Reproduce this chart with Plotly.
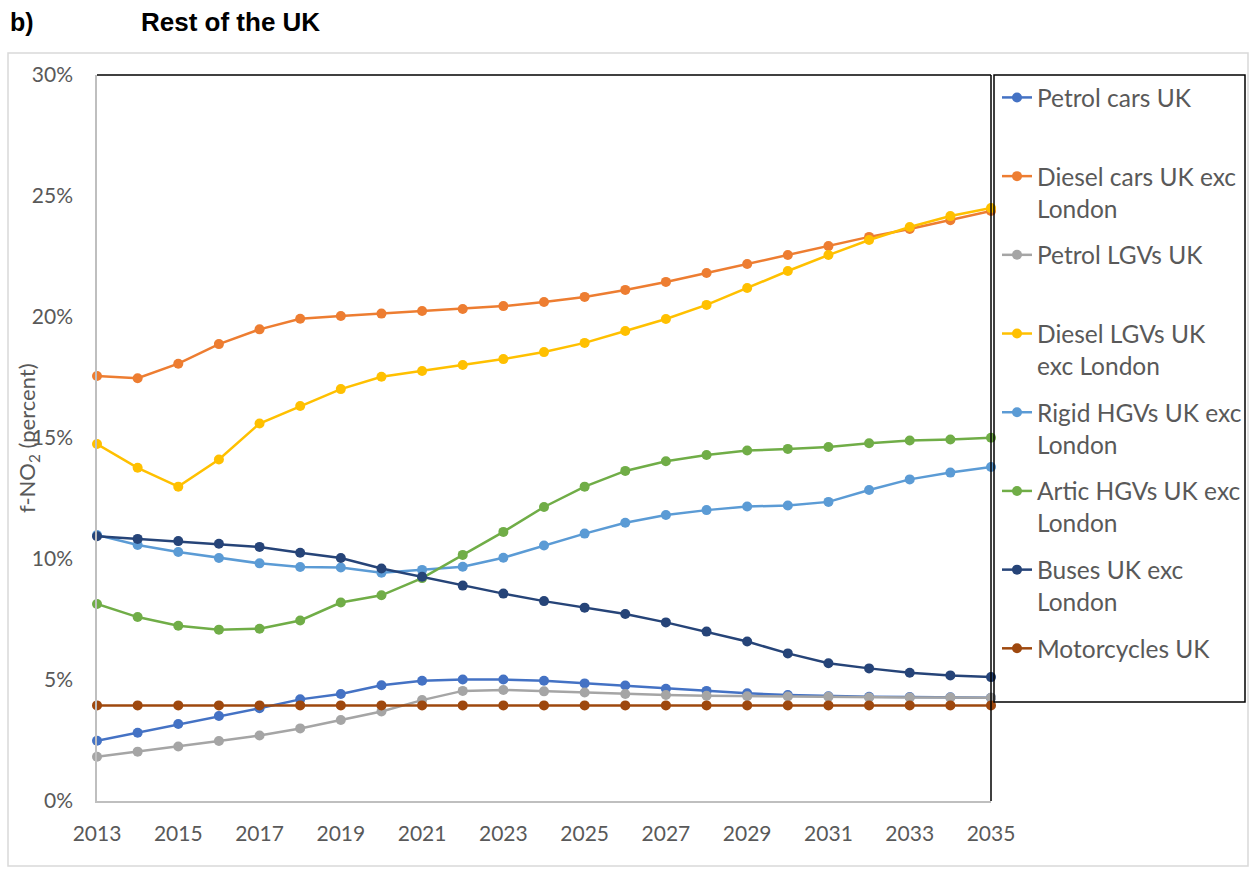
import plotly.graph_objects as go

years = list(range(2013, 2036))

petrol_cars = [2.49, 2.82, 3.18, 3.51, 3.83, 4.20, 4.42, 4.78, 4.97, 5.02, 5.02, 4.97, 4.86, 4.77, 4.64, 4.55, 4.45, 4.38, 4.33, 4.31, 4.30, 4.29, 4.27]
diesel_cars = [17.56, 17.47, 18.07, 18.88, 19.49, 19.93, 20.04, 20.14, 20.25, 20.33, 20.45, 20.62, 20.83, 21.12, 21.45, 21.82, 22.19, 22.56, 22.93, 23.31, 23.64, 24.00, 24.38]
petrol_lgvs = [1.83, 2.04, 2.25, 2.48, 2.71, 3.00, 3.35, 3.70, 4.17, 4.55, 4.59, 4.53, 4.48, 4.42, 4.38, 4.35, 4.33, 4.32, 4.31, 4.28, 4.28, 4.28, 4.27]
diesel_lgvs = [14.75, 13.77, 12.99, 14.11, 15.60, 16.32, 17.02, 17.53, 17.77, 18.02, 18.26, 18.55, 18.93, 19.42, 19.92, 20.50, 21.20, 21.90, 22.56, 23.18, 23.72, 24.17, 24.50]
rigid_hgvs = [10.99, 10.58, 10.29, 10.04, 9.82, 9.67, 9.65, 9.43, 9.55, 9.68, 10.05, 10.56, 11.05, 11.50, 11.82, 12.02, 12.17, 12.21, 12.36, 12.85, 13.29, 13.57, 13.80]
artic_hgvs = [8.14, 7.60, 7.24, 7.08, 7.12, 7.46, 8.20, 8.50, 9.21, 10.17, 11.12, 12.15, 12.99, 13.64, 14.04, 14.30, 14.48, 14.55, 14.63, 14.78, 14.90, 14.94, 15.01]
buses = [10.94, 10.83, 10.74, 10.63, 10.50, 10.26, 10.04, 9.61, 9.27, 8.90, 8.57, 8.26, 7.99, 7.73, 7.38, 7.00, 6.59, 6.10, 5.69, 5.48, 5.30, 5.19, 5.12]
motorcycles = [3.95] * 23

series_names = [
    "Petrol cars UK<br> ",
    "Diesel cars UK exc<br>London",
    "Petrol LGVs UK<br> ",
    "Diesel LGVs UK<br>exc London",
    "Rigid HGVs UK exc<br>London",
    "Artic HGVs UK exc<br>London",
    "Buses UK exc<br>London",
    "Motorcycles UK<br> ",
]
series_values = [petrol_cars, diesel_cars, petrol_lgvs, diesel_lgvs, rigid_hgvs, artic_hgvs, buses, motorcycles]
series_colors = ["#4472C4", "#ED7D31", "#A5A5A5", "#FFC000", "#5B9BD5", "#70AD47", "#264478", "#9E480E"]

y_ticks = [0, 0.05, 0.10, 0.15, 0.20, 0.25, 0.30]
x_ticks = list(range(2013, 2036, 2))

fig = go.Figure()
for i, (name, vals, col) in enumerate(zip(series_names, series_values, series_colors)):
    fig.add_trace(go.Scatter(
        x=years, y=[v / 100 for v in vals], name=name, mode="lines+markers",
        line=dict(color=col, width=2.5), marker=dict(color=col, size=10),
        cliponaxis=False, legendgroup=f"g{i}",
    ))

W, H = 1251, 870
L, T = 97, 75
R = W - 991
B = H - 801
pw = W - L - R
ph = H - T - B

def px_x(sx):
    return (sx - L) / pw

def px_y(sy):
    return (H - B - sy) / ph

shapes = [
    dict(type="rect", xref="paper", yref="paper", x0=px_x(8), x1=px_x(1248), y0=px_y(53), y1=px_y(866),
         line=dict(color="#D9D9D9", width=1.5), layer="below"),
    dict(type="line", xref="paper", yref="paper", x0=0, x1=1, y0=1, y1=1, line=dict(color="black", width=1.5)),
    dict(type="line", xref="paper", yref="paper", x0=1, x1=1, y0=0, y1=1, line=dict(color="black", width=1.5)),
    dict(type="rect", xref="paper", yref="paper", x0=px_x(994), x1=px_x(1245), y0=px_y(702), y1=1,
         line=dict(color="black", width=1.5)),
]

fig.update_layout(
    width=W, height=H,
    margin=dict(l=L, r=R, t=T, b=B, autoexpand=False),
    paper_bgcolor="white", plot_bgcolor="white",
    font=dict(family="Lato", color="#595959"),
    showlegend=True,
    legend=dict(
        x=px_x(997), y=1, xanchor="left", yanchor="top",
        font=dict(family="Lato", size=24.5, color="#595959"),
        valign="top", tracegroupgap=12, traceorder="grouped",
        bgcolor="rgba(0,0,0,0)", borderwidth=0, itemwidth=30,
    ),
    xaxis=dict(
        range=[2013, 2035], tickvals=x_ticks, ticktext=[str(t) for t in x_ticks],
        showgrid=False, zeroline=False, showline=True, linecolor="#BFBFBF", linewidth=1.5,
        ticks="", tickfont=dict(size=21, color="#595959", family="Lato"), ticklabelstandoff=13,
    ),
    yaxis=dict(
        range=[0, 0.30], tickvals=y_ticks, tickformat=".0%",
        showgrid=False, zeroline=False, showline=True, linecolor="#BFBFBF", linewidth=1.5,
        ticks="", tickfont=dict(size=21, color="#595959", family="Lato"), ticklabelstandoff=18,
    ),
    shapes=shapes,
    annotations=[
        dict(text="<b>b)</b>", xref="paper", yref="paper", x=px_x(8), y=px_y(22), xanchor="left", yanchor="middle",
             showarrow=False, font=dict(family="Liberation Sans", size=25, color="black")),
        dict(text="<b>Rest of the UK</b>", xref="paper", yref="paper", x=px_x(139), y=px_y(22), xanchor="left", yanchor="middle",
             showarrow=False, font=dict(family="Liberation Sans", size=26, color="black")),
        dict(text="f-NO<sub>2</sub> (percent)", xref="paper", yref="paper", x=px_x(28), y=0.5,
             xanchor="center", yanchor="middle", textangle=-90, showarrow=False,
             font=dict(family="Lato", size=22, color="#595959")),
    ],
)

fig.write_html("out.html", config={"displayModeBar": False},
               post_script="document.body.style.margin='0';document.body.style.overflow='hidden';")
